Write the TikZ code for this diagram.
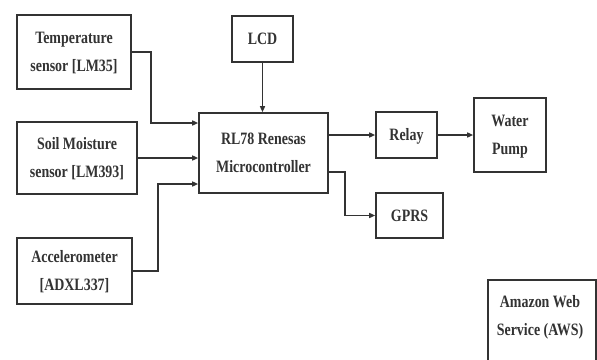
\documentclass[tikz,border=0pt]{standalone}
\usepackage{fontspec}
\setmainfont{Liberation Serif}
\usetikzlibrary{arrows.meta}
\definecolor{ink}{HTML}{333333}
\newcommand{\bxtxt}[1]{\scalebox{0.9}[1.12]{\fontsize{15.5}{25}\selectfont\bfseries\begin{tabular}{@{}c@{}}#1\end{tabular}}}
\begin{document}
\begin{tikzpicture}[x=1pt,y=-1pt,
  blk/.style={draw=ink,line width=1.6pt,fill=white,inner sep=0pt,align=center,text=black!80},
  arr/.style={draw=ink,line width=1.4pt,-{Triangle[length=6pt,width=5pt]}}]
\useasboundingbox (0,0) rectangle (597,359);
\clip (0,0) rectangle (597,359);
\node[blk,minimum width=114pt,minimum height=74pt] (temp) at (74,52) {\bxtxt{Temperature\\sensor [LM35]}};
\node[blk,minimum width=61pt,minimum height=46pt] (lcd) at (262.5,39) {\bxtxt{LCD}};
\node[blk,minimum width=120pt,minimum height=72pt] (soil) at (77,158) {\bxtxt{Soil Moisture\\sensor [LM393]}};
\node[blk,minimum width=129pt,minimum height=80pt] (micro) at (263.5,153) {\bxtxt{RL78 Renesas\\Microcontroller}};
\node[blk,minimum width=115pt,minimum height=66pt] (accel) at (74.5,271) {\bxtxt{Accelerometer\\{[ADXL337]}}};
\node[blk,minimum width=61pt,minimum height=46pt] (relay) at (406.5,135) {\bxtxt{Relay}};
\node[blk,minimum width=72pt,minimum height=74pt] (pump) at (510,135) {\bxtxt{Water\\Pump}};
\node[blk,minimum width=67pt,minimum height=45pt] (gprs) at (409.5,215.5) {\bxtxt{GPRS}};
\node[blk,minimum width=108pt,minimum height=100pt,anchor=north west] (aws) at (487,279) {};
\node[text=black!80,inner sep=0pt] (awst) at (540,316) {\bxtxt{Amazon Web\\Service (AWS)}};
\draw[arr] (temp.east) -- (151,52) |- ([yshift=30pt]micro.west);
\draw[arr] (soil.east) -- (soil.east -| micro.west);
\draw[arr] (accel.east) -- (158,271) |- ([yshift=-31pt]micro.west);
\draw[arr] (lcd.south) -- (lcd.south |- micro.north);
\draw[arr] (micro.east |- relay.west) -- (relay.west);
\draw[arr] (relay.east) -- (pump.west);
\draw[arr] ([yshift=-19pt]micro.east) -- (345,172) |- (gprs.west);
\end{tikzpicture}
\end{document}
